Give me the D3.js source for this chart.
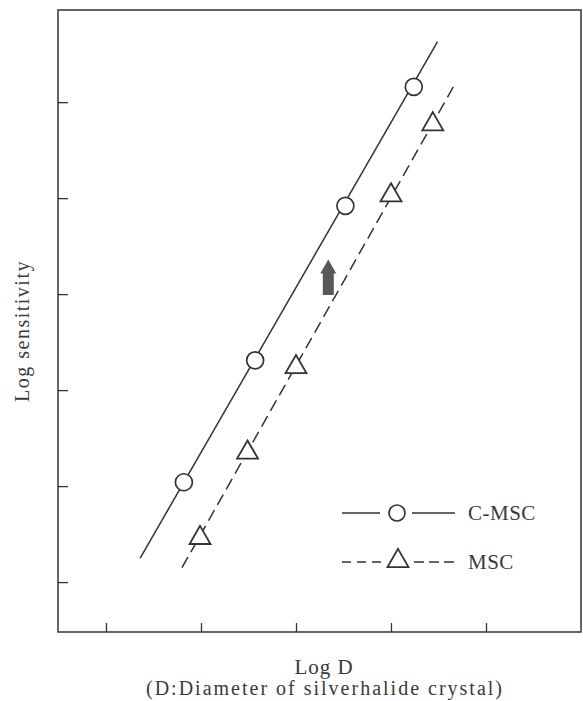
<!DOCTYPE html>
<html>
<head>
<meta charset="utf-8">
<script src="https://cdn.jsdelivr.net/npm/d3@7"></script>
<style>
  body { margin: 0; background: #fff; }
  text { font-family: "Liberation Serif", "DejaVu Serif", serif; fill: #3a3a3a; }
</style>
</head>
<body>
<div id="root"></div>
<script>
// data (arbitrary log units, ticks unlabeled)
var xTicks = [1, 2, 3, 4, 5]
var yTicks = [1, 2, 3, 4, 5, 6]

var cmscX = [1.82, 2.57, 3.52, 4.24]
var cmscY = [2.04, 3.31, 4.92, 6.16]
var mscX = [1.99, 2.49, 3.00, 4.00, 4.44]
var mscY = [1.47, 2.36, 3.25, 5.04, 5.78]

// fitted lines, drawn end to end
var cmscLineX = [1.36, 4.49]
var cmscLineY = [1.25, 6.63]
var mscLineX = [1.80, 4.68]
var mscLineY = [1.15, 6.20]

// arrow: x, from y, to y
var arrowX = 3.34
var arrowY = [3.99, 4.36]

var W = 583, H = 701
var margin = {top: 10, right: 2, bottom: 69, left: 58}
var width = W - margin.left - margin.right
var height = H - margin.top - margin.bottom
var ink = "#333"

var svg = d3.select("#root").append("svg")
    .attr("width", W).attr("height", H)

var g = svg.append("g")
    .attr("transform", "translate(" + margin.left + "," + margin.top + ")")

var x = d3.scaleLinear().domain([0.495, 6.0]).range([0, width])
var y = d3.scaleLinear().domain([0.48, 6.96]).range([height, 0])

// frame
g.append("rect")
    .attr("width", width).attr("height", height)
    .attr("fill", "none").attr("stroke", ink).attr("stroke-width", 1.5)

// inner ticks, no labels
g.append("g")
    .attr("transform", "translate(0," + height + ")")
    .call(d3.axisBottom(x).tickValues(xTicks).tickSize(-9).tickFormat(""))
g.append("g")
    .call(d3.axisLeft(y).tickValues(yTicks).tickSize(-10).tickFormat(""))
g.selectAll(".domain").remove()
g.selectAll(".tick line").attr("stroke", ink).attr("stroke-width", 1.3)

// lines
var line = d3.line().x(function(d){ return x(d[0]) }).y(function(d){ return y(d[1]) })
g.append("path")
    .datum(d3.zip(cmscLineX, cmscLineY))
    .attr("d", line)
    .attr("fill", "none").attr("stroke", ink).attr("stroke-width", 1.5)
g.append("path")
    .datum(d3.zip(mscLineX, mscLineY))
    .attr("d", line)
    .attr("fill", "none").attr("stroke", ink).attr("stroke-width", 1.5)
    .attr("stroke-dasharray", "12,6")

// markers
var tri = d3.symbol().type(d3.symbolTriangle).size(190)
g.selectAll("circle.cm")
    .data(d3.zip(cmscX, cmscY))
    .enter().append("circle")
      .attr("class", "cm")
      .attr("cx", function(d){ return x(d[0]) })
      .attr("cy", function(d){ return y(d[1]) })
      .attr("r", 8.5)
      .attr("fill", "#fff").attr("stroke", ink).attr("stroke-width", 1.7)
g.selectAll("path.ms")
    .data(d3.zip(mscX, mscY))
    .enter().append("path")
      .attr("class", "ms")
      .attr("d", tri)
      .attr("transform", function(d){ return "translate(" + x(d[0]) + "," + (y(d[1]) + 1) + ")" })
      .attr("fill", "#fff").attr("stroke", ink).attr("stroke-width", 1.8)

// grey arrow
var ax = x(arrowX), ay0 = y(arrowY[0]), ay1 = y(arrowY[1])
g.append("path")
    .attr("d", "M" + (ax - 5.5) + "," + ay0 + "L" + (ax - 5.5) + "," + (ay1 + 14) +
               "L" + (ax - 8) + "," + (ay1 + 14) + "L" + ax + "," + ay1 +
               "L" + (ax + 8) + "," + (ay1 + 14) + "L" + (ax + 5.5) + "," + (ay1 + 14) +
               "L" + (ax + 5.5) + "," + ay0 + "Z")
    .attr("fill", "#585858")

// legend
var legend = g.append("g").attr("transform", "translate(" + (342 - margin.left) + ",0)")
var ly1 = 513 - margin.top, ly2 = 562 - margin.top
legend.append("line").attr("x1", 0).attr("x2", 38).attr("y1", ly1).attr("y2", ly1)
    .attr("stroke", ink).attr("stroke-width", 1.5)
legend.append("line").attr("x1", 70).attr("x2", 113).attr("y1", ly1).attr("y2", ly1)
    .attr("stroke", ink).attr("stroke-width", 1.5)
legend.append("circle").attr("cx", 55).attr("cy", ly1).attr("r", 8)
    .attr("fill", "#fff").attr("stroke", ink).attr("stroke-width", 1.7)
legend.append("text").attr("x", 126).attr("y", ly1 + 7).attr("font-size", 21)
    .attr("letter-spacing", 0.5).text("C-MSC")

legend.append("line").attr("x1", 0).attr("x2", 40).attr("y1", ly2).attr("y2", ly2)
    .attr("stroke", ink).attr("stroke-width", 1.5).attr("stroke-dasharray", "9,6")
legend.append("line").attr("x1", 72).attr("x2", 113).attr("y1", ly2).attr("y2", ly2)
    .attr("stroke", ink).attr("stroke-width", 1.5).attr("stroke-dasharray", "10,5")
legend.append("path").attr("d", tri).attr("transform", "translate(56," + (ly2 - 1) + ")")
    .attr("fill", "#fff").attr("stroke", ink).attr("stroke-width", 1.8)
legend.append("text").attr("x", 126).attr("y", ly2 + 7).attr("font-size", 21)
    .attr("letter-spacing", 0.5).text("MSC")

// axis titles
svg.append("text")
    .attr("transform", "translate(29,331) rotate(-90)")
    .attr("text-anchor", "middle").attr("font-size", 20).attr("letter-spacing", 1.5)
    .text("Log sensitivity")
svg.append("text")
    .attr("x", 324).attr("y", 674)
    .attr("text-anchor", "middle").attr("font-size", 21).attr("letter-spacing", 1)
    .text("Log D")
svg.append("text")
    .attr("x", 325).attr("y", 695)
    .attr("text-anchor", "middle").attr("font-size", 20).attr("letter-spacing", 2)
    .text("(D:Diameter of silverhalide crystal)")
</script>
</body>
</html>
